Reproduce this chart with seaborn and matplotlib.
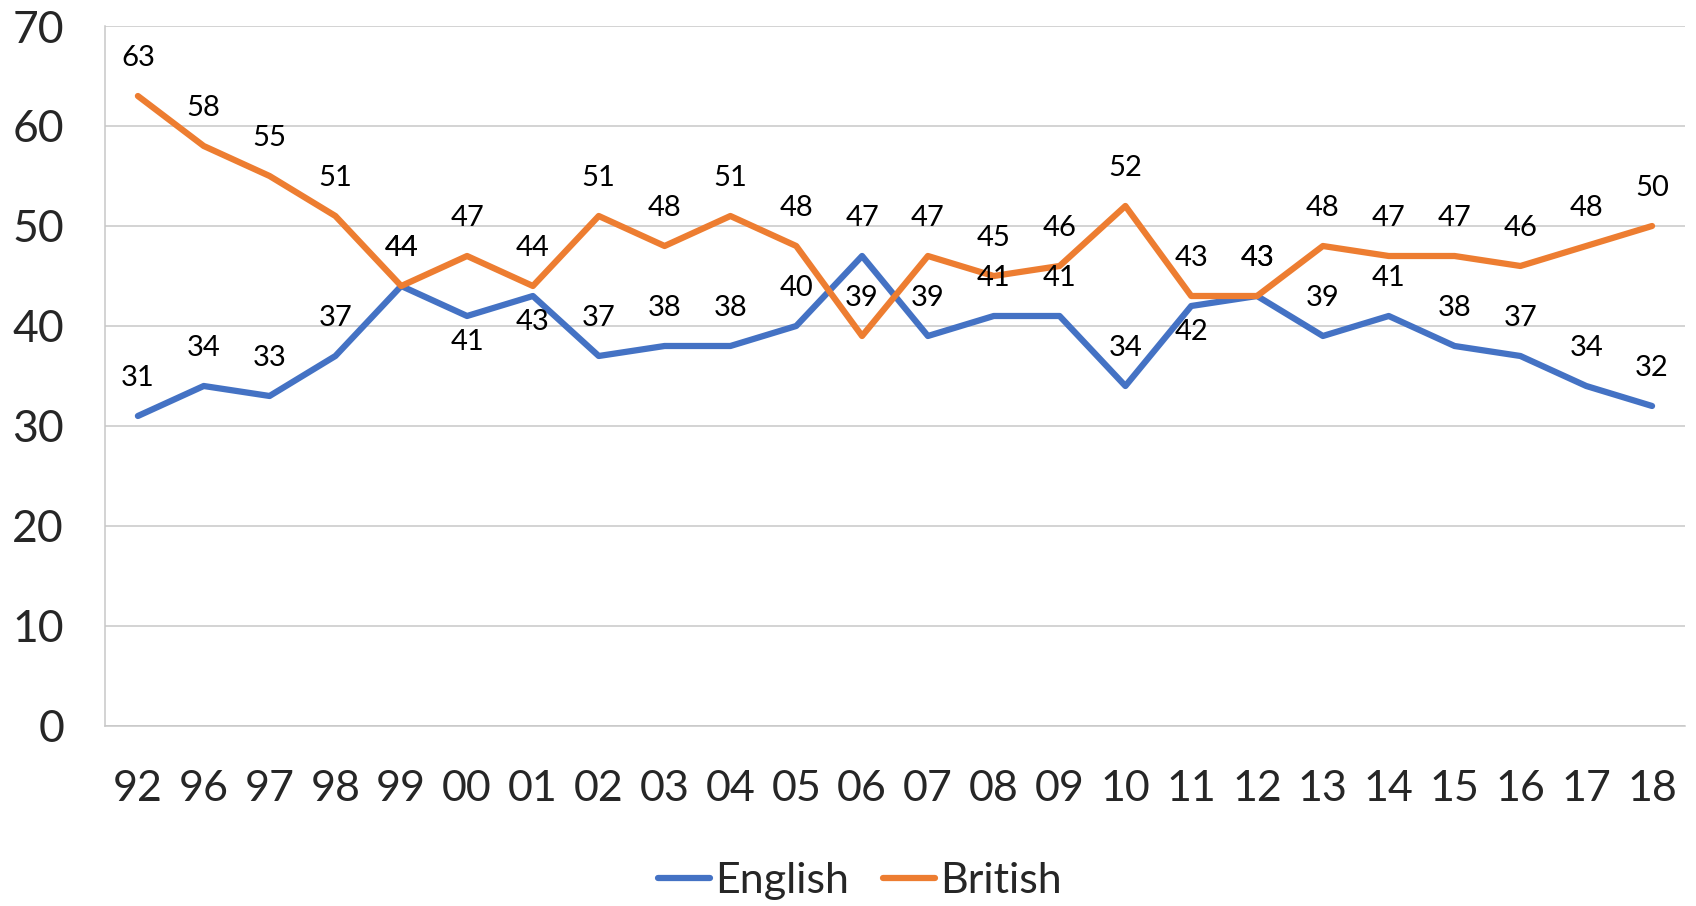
import numpy as np
import pandas as pd
import matplotlib
matplotlib.use("Agg")
import matplotlib.pyplot as plt
import seaborn as sns

years   = ["92", "96", "97", "98", "99", "00", "01", "02", "03", "04", "05", "06",
           "07", "08", "09", "10", "11", "12", "13", "14", "15", "16", "17", "18"]
english = [31, 34, 33, 37, 44, 41, 43, 37, 38, 38, 40, 47,
           39, 41, 41, 34, 42, 43, 39, 41, 38, 37, 34, 32]
british = [63, 58, 55, 51, 44, 47, 44, 51, 48, 51, 48, 39,
           47, 45, 46, 52, 43, 43, 48, 47, 47, 46, 48, 50]

# labels that sit under the point instead of above (English series)
below_english = {"00", "01", "11"}

COLORS = {"English": "#4472C4", "British": "#ED7D31"}
GRID = "#C8C8C8"

df = pd.concat([
    pd.DataFrame({"pos": np.arange(len(years)), "year": years, "value": english, "series": "English"}),
    pd.DataFrame({"pos": np.arange(len(years)), "year": years, "value": british, "series": "British"}),
])

sns.set_style("white")
plt.rcParams["font.family"] = ["Lato", "DejaVu Sans"]

fig = plt.figure(figsize=(16.96, 9.06), dpi=100)
ax = fig.add_axes([0.0619, 0.1987, 0.9316, 0.7726])

sns.lineplot(data=df, x="pos", y="value", hue="series", palette=COLORS,
             linewidth=4.5, ax=ax, legend=True, sort=False)

# ── data labels ──
for _, r in df.iterrows():
    below = r["series"] == "English" and r["year"] in below_english
    ax.annotate(str(r["value"]), (r["pos"], r["value"]),
                xytext=(0, -19 if below else 27), textcoords="offset points",
                ha="center", va="center", fontsize=21, color="#000000")

# ── axes ──
ax.set_xlim(-0.5, len(years) - 0.5)
ax.set_ylim(0, 70)
ax.set_yticks(range(0, 71, 10))
ax.set_xticks(np.arange(-0.5, len(years), 1.0))
ax.set_xticklabels([])
ax.set_xticks(np.arange(len(years)), minor=True)
ax.set_xticklabels(years, minor=True)
ax.tick_params(axis="x", which="major", length=10.5, width=1.1, color=GRID, direction="out")
ax.tick_params(axis="x", which="minor", length=0, pad=32, labelsize=31)
ax.tick_params(axis="y", which="major", length=9.5, width=1.1, color=GRID, pad=20, labelsize=32)
ax.yaxis.grid(True, color=GRID, linewidth=1.1)
ax.xaxis.grid(False)
ax.set_axisbelow(True)
for s in ["top", "right"]:
    ax.spines[s].set_visible(False)
for s in ["left", "bottom"]:
    ax.spines[s].set_color(GRID)
    ax.spines[s].set_linewidth(1.1)
ax.set_xlabel(""); ax.set_ylabel("")

ax.legend(loc="center", bbox_to_anchor=(0.507, 0.028), bbox_transform=fig.transFigure,
          ncol=2, frameon=False, fontsize=31, handlelength=1.2, handletextpad=0.12,
          columnspacing=0.8)

fig.savefig("out.png", dpi=100)
